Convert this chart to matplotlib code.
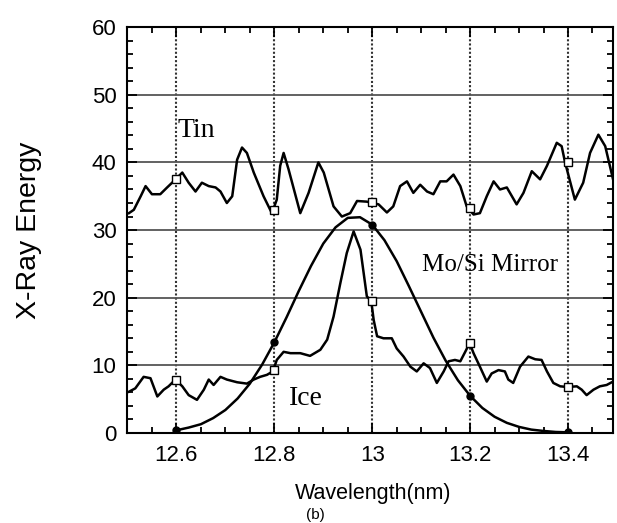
"""X-ray energy vs wavelength: Tin and Ice emission with the Mo/Si mirror band."""

import matplotlib
matplotlib.use("Agg")
import matplotlib.pyplot as plt
from matplotlib.ticker import MultipleLocator

# Tin emission
tin_x = [12.503, 12.513, 12.527, 12.537, 12.550, 12.567, 12.581, 12.594, 12.612, 12.625,
         12.639, 12.652, 12.666, 12.680, 12.690, 12.703, 12.714, 12.724, 12.734, 12.744,
         12.758, 12.778, 12.795, 12.805, 12.812, 12.819, 12.829, 12.853, 12.870, 12.890,
         12.901, 12.921, 12.938, 12.955, 12.969, 12.989, 13.013, 13.030, 13.043, 13.057,
         13.071, 13.084, 13.098, 13.112, 13.125, 13.139, 13.152, 13.166, 13.180, 13.193,
         13.207, 13.220, 13.234, 13.248, 13.261, 13.275, 13.295, 13.309, 13.326, 13.343,
         13.357, 13.377, 13.387, 13.394, 13.414, 13.431, 13.445, 13.462, 13.476, 13.492]
tin_y = [32.5, 33.0, 35.0, 36.5, 35.3, 35.3, 36.3, 37.2, 38.5, 37.0,
         35.7, 37.0, 36.5, 36.3, 35.7, 34.0, 35.0, 40.4, 42.2, 41.4,
         38.5, 35.0, 32.5, 34.5, 39.5, 41.4, 39.0, 32.5, 35.5, 40.0,
         38.5, 33.5, 32.0, 32.5, 34.3, 34.2, 33.8, 32.6, 33.5, 36.5,
         37.2, 35.5, 36.7, 35.7, 35.3, 37.2, 37.2, 38.2, 36.5, 33.5,
         32.3, 32.5, 35.0, 37.2, 36.0, 36.3, 33.8, 35.5, 38.7, 37.5,
         39.5, 42.9, 42.4, 40.0, 34.5, 37.0, 41.4, 44.1, 42.4, 37.5]

# Ice emission
ice_x = [12.503, 12.516, 12.533, 12.547, 12.561, 12.574, 12.584, 12.598, 12.612, 12.625,
         12.642, 12.656, 12.666, 12.676, 12.690, 12.703, 12.724, 12.744, 12.758, 12.771,
         12.785, 12.797, 12.805, 12.819, 12.833, 12.853, 12.873, 12.894, 12.908, 12.921,
         12.935, 12.948, 12.962, 12.976, 12.989, 12.998, 13.003, 13.010, 13.023, 13.040,
         13.050, 13.064, 13.078, 13.091, 13.105, 13.118, 13.132, 13.146, 13.156, 13.169,
         13.180, 13.190, 13.199, 13.207, 13.220, 13.234, 13.244, 13.258, 13.271, 13.278,
         13.288, 13.302, 13.319, 13.333, 13.346, 13.357, 13.370, 13.384, 13.399, 13.418,
         13.428, 13.438, 13.452, 13.465, 13.479, 13.492]
ice_y = [6.1, 6.6, 8.3, 8.1, 5.4, 6.4, 6.9, 7.9, 6.9, 5.6,
         4.9, 6.4, 7.9, 7.1, 8.3, 7.9, 7.5, 7.3, 7.9, 8.3,
         8.6, 9.1, 10.8, 12.0, 11.8, 11.8, 11.4, 12.3, 13.8, 17.2,
         22.2, 26.6, 29.8, 27.1, 20.2, 19.5, 16.7, 14.3, 14.0, 14.0,
         12.5, 11.3, 9.8, 9.1, 10.3, 9.6, 7.4, 9.1, 10.6, 10.8,
         10.6, 12.0, 13.3, 11.8, 9.8, 7.6, 8.8, 9.3, 9.1, 7.9,
         7.4, 9.8, 11.3, 10.9, 10.8, 9.1, 7.4, 6.9, 6.8, 6.9,
         6.4, 5.6, 6.4, 6.9, 7.1, 7.6]

# Mo/Si mirror reflectivity band
mirror_x = [12.6, 12.625, 12.65, 12.675, 12.7, 12.725, 12.75, 12.775, 12.8, 12.825,
            12.85, 12.875, 12.9, 12.925, 12.95, 12.975, 13.0, 13.025, 13.05, 13.075,
            13.1, 13.125, 13.15, 13.175, 13.2, 13.225, 13.25, 13.275, 13.3, 13.325,
            13.35, 13.375, 13.4]
mirror_y = [0.4, 0.8, 1.3, 2.2, 3.4, 5.1, 7.3, 10.1, 13.4, 17.1,
            21.0, 24.7, 28.0, 30.4, 31.8, 31.9, 30.8, 28.5, 25.4, 21.7,
            17.9, 14.1, 10.7, 7.8, 5.5, 3.7, 2.4, 1.5, 0.9, 0.5,
            0.3, 0.15, 0.1]

# marker positions
mark_x = [12.6, 12.8, 13.0, 13.2, 13.4]
tin_mark = [37.5, 33.0, 34.2, 33.2, 40.0]
ice_mark = [7.9, 9.3, 19.5, 13.3, 6.8]
mirror_mark = [0.4, 13.4, 30.8, 5.5, 0.1]

xticks = [12.6, 12.8, 13.0, 13.2, 13.4]
xtick_labels = ["12.6", "12.8", "13", "13.2", "13.4"]

plt.rcParams["font.family"] = ["Liberation Sans", "DejaVu Sans"]

fig = plt.figure(figsize=(6.17, 5.23), dpi=100)
ax = fig.add_axes([0.2066, 0.1721, 0.787, 0.776])

ax.plot(tin_x, tin_y, color="black", lw=1.8)
ax.plot(ice_x, ice_y, color="black", lw=1.8)
ax.plot(mirror_x, mirror_y, color="black", lw=1.8)
ax.plot(mark_x, tin_mark, ls="none", marker="s", ms=6, mfc="white", mec="black", mew=1.0)
ax.plot(mark_x, ice_mark, ls="none", marker="s", ms=6, mfc="white", mec="black", mew=1.0)
ax.plot(mark_x, mirror_mark, ls="none", marker="o", ms=5, color="black")

ax.set_xlim(12.5, 13.492)
ax.set_ylim(0, 60)
ax.set_xticks(xticks)
ax.set_xticklabels(xtick_labels)
ax.set_yticks(range(0, 61, 10))
ax.xaxis.set_minor_locator(MultipleLocator(0.05))
ax.yaxis.set_minor_locator(MultipleLocator(2))
ax.tick_params(which="both", direction="in", top=True, right=True, width=1.3)
ax.tick_params(which="major", length=7, labelsize=16)
ax.tick_params(axis="x", which="major", pad=9)
ax.tick_params(axis="y", which="major", pad=8)
ax.tick_params(which="minor", length=4)
for s in ax.spines.values():
    s.set_linewidth(1.5)

ax.grid(axis="y", which="major", color="#555555", lw=1.3, ls="-")
ax.grid(axis="x", which="major", color="#333333", lw=1.5, ls=(0, (1, 1)))

serif = ["Liberation Serif", "DejaVu Serif"]
ax.text(12.602, 43.7, "Tin", family=serif, fontsize=20)
ax.text(12.829, 4.1, "Ice", family=serif, fontsize=20)
ax.text(13.102, 23.9, "Mo/Si Mirror", family=serif, fontsize=18)

ax.set_xlabel("Wavelength(nm)", fontsize=15.5)
ax.xaxis.set_label_coords(0.506, -0.123)
ax.set_ylabel("X-Ray Energy", fontsize=20.5)
ax.yaxis.label.set_va("center")
ax.yaxis.set_label_coords(-0.203, 0.5)

fig.text(315 / 617, 1 / 523, "(b)", fontsize=11, ha="center", va="bottom")

fig.savefig("out.png", dpi=100)
